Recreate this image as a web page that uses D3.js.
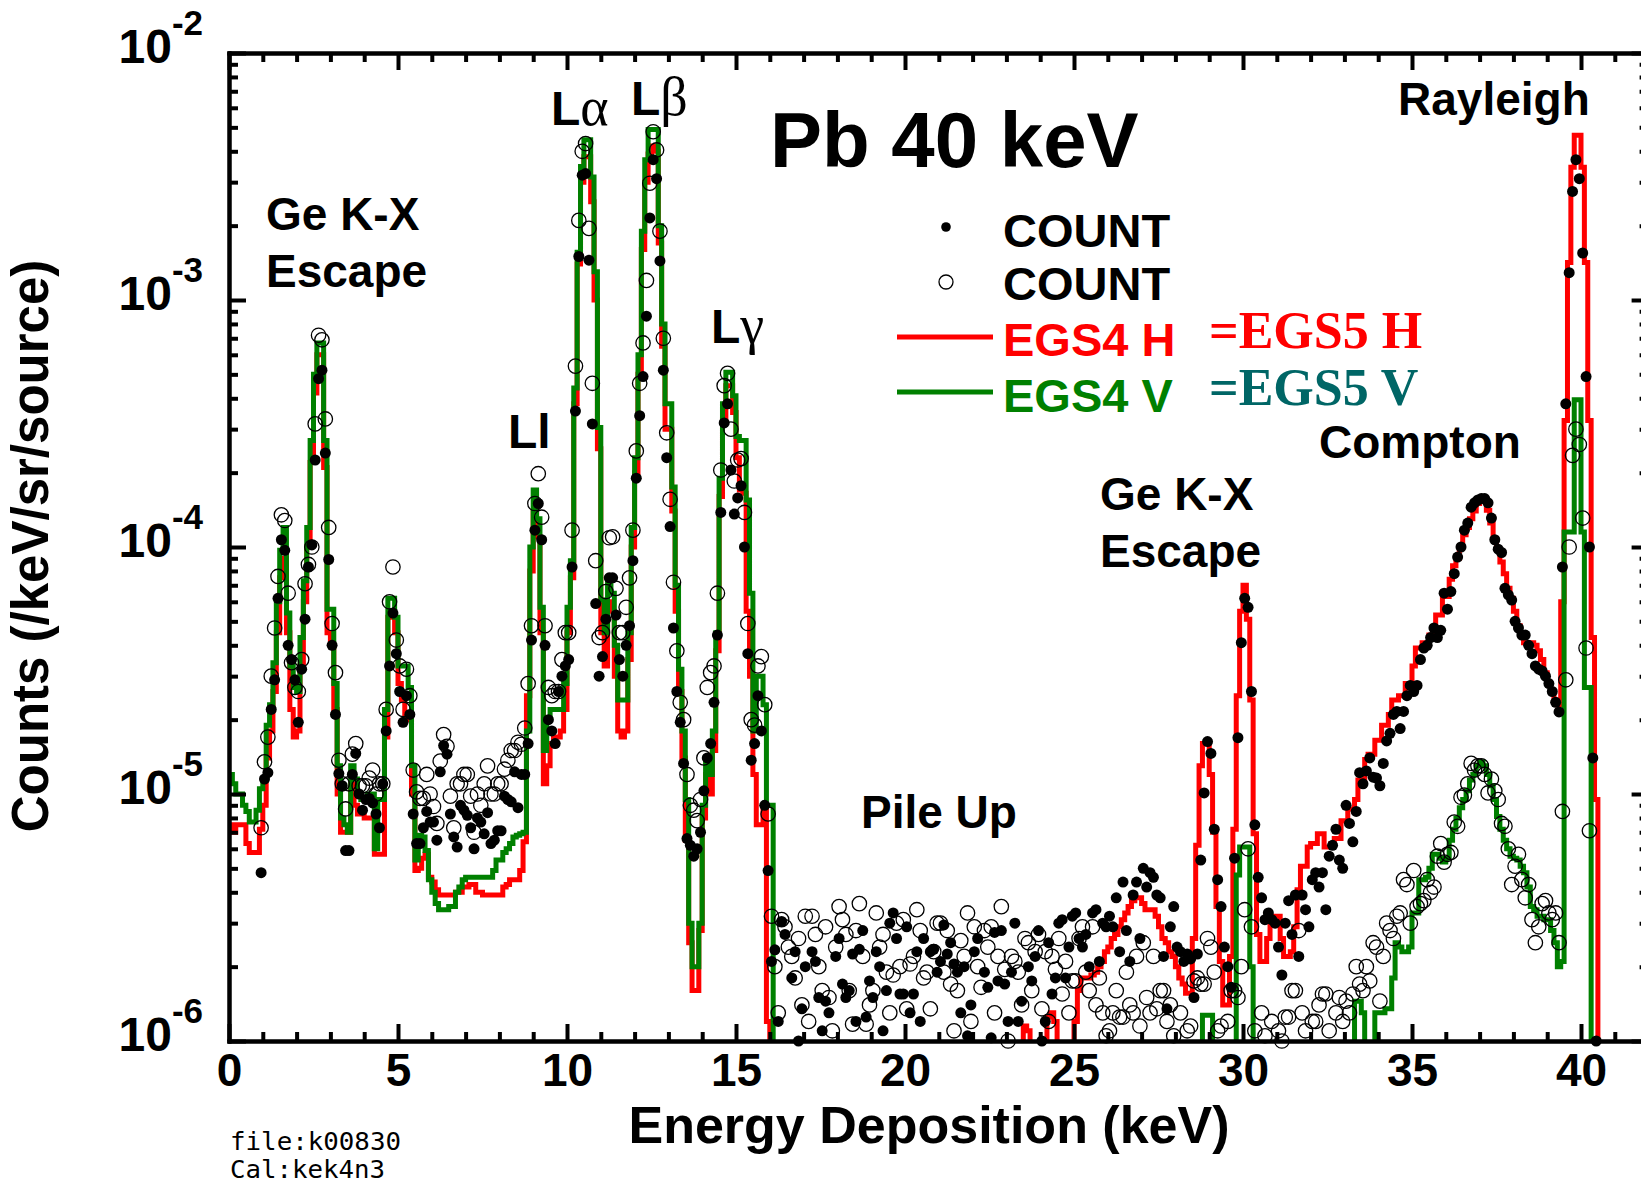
<!DOCTYPE html>
<html>
<head>
<meta charset="utf-8">
<script src="https://cdn.jsdelivr.net/npm/d3@7/dist/d3.min.js"></script>
<style>
  html, body { margin: 0; padding: 0; background: #fff; }
  svg { display: block; }
</style>
</head>
<body>
<svg id="chart" width="1641" height="1187"></svg>
<script>
// ---------------- DATA (counts in units of 1e-6 /keV/sr/source) ----------------
// Histograms: 0.1 keV bins starting at 0 keV; 0 = below the plotted range
const binWidth = 0.1;
const histStart = 0.0;
const egs4H = [
  7.5,7,7.5,7.5,7.5,6.3,5.8,5.8,5.8,7.2,
  9,14,18,26,45,75,90,45,22,17,
  18,33,60,100,220,420,600,600,210,45,
  40,22,10,7,7,7,11,9,8.3,8.3,
  8,8,8,5.7,5.7,5.7,17,52,52,45,
  28,24,20,20,10,4.9,5.0,5.5,5.7,4.6,
  4.4,4.1,3.9,3.9,3.9,3.9,3.9,4.0,4.0,4.2,
  4.2,4.3,4.3,4.0,4.0,3.9,3.9,3.9,3.9,3.9,
  3.9,4.2,4.3,4.5,4.5,4.5,4.9,6.4,25,80,
  140,110,45,11,13,16,17,17,18,22,
  45,75,380,1400,3000,3800,3800,2500,1000,250,
  45,33,60,55,30,18,17,18,35,100,
  200,500,1600,3000,3900,4200,4000,1700,650,300,
  300,140,55,26,14,6.5,2.5,1.6,1.6,2.8,
  8,12,10,15,38,160,330,450,450,350,
  230,170,165,55,30,12,7.5,7.5,9,1.2,
  0,0,0,0,0,0,0,0,0,0,
  0,0,0,0,0,0,0,0,0,0,
  0,0,0,0,0,0,0,0,0,0,
  0,0,0,0,0,0,0,0,0,0,
  0,0,0,0,0,0,0,0,0,0,
  0,0,0,0,0,0,0,0,0,0,
  0,0,0,0,0,0,0,0,0,0,
  0,0,0,0,0,1.15,1.1,0,0,0,
  0,0,1.25,1.3,1.2,0,0,0,0,0,
  1.2,1.6,1.8,1.8,1.8,1.85,1.9,2.0,2.1,2.3,
  2.4,2.6,2.7,2.9,3.1,3.3,3.5,3.7,3.8,3.8,
  3.6,3.4,3.4,3.4,3.2,2.9,2.6,2.5,2.3,2.2,
  2.0,1.8,1.7,1.56,1.56,2.6,6.2,13,16,16,
  12,7,3.5,2.1,1.4,1.4,2.2,7.2,25,55,
  70,51,24,6.9,2.7,2.1,2.1,2.6,3.2,3.2,
  3.2,2.6,2.2,2.2,2.3,2.9,4.1,5.1,5.1,6.1,
  6.3,6.3,6.9,6.9,6.1,6.1,6.3,6.6,6.6,7.8,
  7.8,8.7,8.7,9.5,11.4,11.4,13.8,14.5,14.5,16.5,
  16.5,19,19,21,24,24,25,25,28,28,
  33,39,39,41,41,44,44,53,53,63,
  63,74,84,90,100,112,120,130,140,150,
  155,155,141,125,108,98,87,78,68,62,
  55,48,44,41,41,41,40,38,35,31,
  28,26,24,23,60,325,1420,3450,4650,4650,
  3450,1420,325,43,9.5
];
const egs4V = [
  12,11,10,10,9,8.5,7.7,7.7,8.6,10.5,
  11.5,19,23,34,60,97,120,54,33,27,
  26,43,73,120,270,500,670,670,270,56,
  56,28,13,8,7.5,7,13,11.5,10,9.5,
  9.5,10,10,6,9.5,9.5,22,62,62,52,
  33,33,33,27,13,5.4,6.8,6.7,5.9,4.5,
  4.0,3.6,3.4,3.4,3.4,3.5,3.5,4.0,4.2,4.5,
  4.6,4.6,4.6,4.6,4.6,4.6,4.6,4.6,4.9,5.4,
  5.4,5.8,6.0,6.3,6.7,6.8,6.9,7.0,18,100,
  170,130,57,15,20,22,22,22,22,28,
  57,88,440,1560,3470,4450,4450,3150,1300,305,
  61,45,75,65,40,24,24,24,45,120,
  230,600,1900,3700,4900,4900,4900,2000,800,380,
  380,175,70,32,18,9.5,3.0,2.0,2.0,3.0,
  9,14,12,18,45,190,380,510,510,410,
  280,270,270,155,65,18,30,30,23,9,
  9,0,0,0,0,0,0,0,0,0,
  0,0,0,0,0,0,0,0,0,0,
  0,0,0,0,0,0,0,0,0,0,
  0,0,0,0,0,0,0,0,0,0,
  0,0,0,0,0,0,0,0,0,0,
  0,0,0,0,0,0,0,0,0,0,
  0,0,0,0,0,0,0,0,0,0,
  0,0,0,0,0,0,0,0,0,0,
  0,0,0,0,0,0,0,0,0,0,
  0,0,0,0,0,0,0,0,0,0,
  0,0,0,0,0,0,0,0,0,0,
  0,0,0,0,0,0,0,0,0,0,
  0,0,0,0,0,0,0,0,1.27,1.27,
  1.27,0,0,0,0,0,0,0,4.7,6.1,
  6.1,6.1,2.0,0,0,0,0,0,0,0,
  0,0,0,0,0,0,0,0,0,0,
  0,0,0,0,0,0,0,0,0,0,
  0,0,0,1.45,1.45,1.3,0,0,0,1.3,
  1.3,1.3,1.35,1.35,1.8,2.5,2.4,2.3,2.3,2.4,
  3.3,3.3,4.5,4.5,4.6,5.0,5.7,5.7,5.5,5.3,
  5.5,6.5,7.2,8.0,8.8,9.5,10.3,11.4,12,13,
  13.5,13,12,10.8,9.5,8.1,7.2,6.5,6.0,5.6,
  5.5,5.4,5.1,4.8,4.2,3.5,3.4,3.2,3.2,3.1,
  3.1,2.8,2.5,2.0,2.1,115,115,115,395,395,
  115,27,27,0,0
];

// Measured points: channels every 0.1 keV, centred at 0.05 keV; null = below range / no data
const pointStart = 0.05;
const pointStep = 0.1;
const countH = [
  null,null,null,null,null,null,null,null,null,4.8,
  11.5,12.2,22,29,62,107,97,40,35,29,
  19.5,32,51,83,102,225,480,520,240,89,
  40,21,12.1,10.8,5.9,5.9,12,14.6,10,8.6,
  9.5,9.6,9.2,8.3,7.3,11,18,33,54,37,
  26,19.5,25,21,8.3,6.3,6.3,7.3,8.5,7.7,
  7.7,6.5,12.3,15.7,14.5,8.3,6.7,6.1,9.0,8.6,
  8.2,7.3,6.0,8.0,7.7,6.9,8.4,6.3,6.5,7.1,
  7.1,9.8,9.5,9.3,12.3,8.8,12,12,16,42,
  117,150,107,40,20,18,16,26,30,33,
  35,83,355,1500,3200,3250,1450,315,59,30,
  36,51,75,75,53,35,30,40,48,88,
  190,340,490,860,2150,3700,3100,1440,520,230,
  121,47,26,19.5,13.3,6.6,6.2,5.6,6.0,7.0,
  10.3,14,16,23.5,44,138,318,380,205,136,
  158,177,100,37,13.7,16,25,18,9,4.9,
  2.1,2.34,1.2,3.05,2.7,null,1.8,2.3,1.0,1.35,
  2.0,null,2.3,2.1,1.5,1.1,1.45,1.3,null,2.2,
  2.6,1.7,1.5,1.6,2.25,1.2,2.35,2.8,1.25,1.75,
  1.5,2.3,2.0,1.1,1.6,3.0,3.3,2.6,1.55,1.55,
  2.9,1.3,1.55,2.3,1.2,2.6,null,2.3,2.35,1.9,
  2.1,2.95,2.25,2.5,2.05,1.9,1.3,2.0,1.05,1.4,
  2.3,2.6,null,1.9,1.65,1.03,2.75,1.75,2.8,1.7,
  1.2,1.9,3.0,1.2,1.45,null,2.0,1.75,2.2,2.8,
  1.0,1.2,2.5,1.55,1.8,3.0,3.1,1.8,2.4,3.2,
  3.3,2.6,2.4,2.7,2.0,3.3,3.4,2.1,3.0,2.9,
  3.2,2.9,3.8,2.3,4.4,2.8,2.1,3.9,4.4,2.6,
  5.0,4.2,4.8,4.6,3.9,3.8,2.2,1.35,2.9,3.5,
  2.4,2.3,2.1,2.25,2.15,1.5,2.25,5.4,10.1,16.3,
  14.6,7.2,4.5,3.5,2.4,2.0,1.65,5.5,16.9,41,
  62,57,26,7.5,4.6,3.8,3.1,3.3,3.1,3.0,
  2.4,1.85,3.0,3.7,2.7,3.9,2.2,3.9,3.4,2.9,
  4.5,4.8,4.2,4.8,3.4,5.6,6.2,7.2,5.4,5.0,
  9.0,7.6,6.4,8.5,12.2,11.0,12.4,14.0,11.7,11.6,
  10.8,13.3,16.4,17.6,21,21.6,18.4,21.6,25,27.5,
  26,27.5,35,39,40,43,47,43,46,65,
  56,66,78,91,100,117,125,145,151,155,
  157,157,151,131,107,98,95,68,64,61,
  50,47,44,44,40,37,33,32,31.5,30,
  28,26,23.5,21.5,83,380,1290,2750,3700,3100,
  1550,490,100,14,1.0,null
];
const countV = [
  null,null,null,null,null,null,null,null,null,7.3,
  13.5,17,30,47,76,135,128,65,34,27,
  26,35,71,85,100,315,720,690,330,120,
  49,31,13.7,11,8.7,11,14.5,16,10.8,10.8,
  10.8,11.6,12.5,10,11,11,22,60,83,42,
  33,22,32,25,12.5,10.2,9.6,9.6,12,10,
  8.9,7.6,13.6,17.4,15.6,9.8,7.3,11,11,12,
  12,9.8,7.0,10,9,11,13,10,10,11,
  11,12.6,13.7,15,15,16.2,15.9,18.5,28,48,
  150,198,132,48,27,25,26,26,35,45,
  45,117,540,2100,4000,4300,1950,460,88,43,
  45,66,109,110,68,45,45,57,75,117,
  245,460,670,1200,2970,4800,4050,1900,700,290,
  156,72,38,23.5,20,12,9,8.6,7.8,9.5,
  14,27,31,33,65,205,450,505,300,185,
  225,228,138,49,20,19,33,36,23,8.3,
  3.2,2.0,1.3,3.1,2.9,2.4,2.2,1.8,2.6,1.4,
  3.2,1.2,3.2,2.7,2.0,1.6,2.9,1.5,1.1,2.4,
  3.5,3.1,2.7,1.6,1.17,2.8,3.6,2.2,1.17,1.4,
  1.6,3.3,2.4,2.7,1.9,1.3,1.85,3.0,2.0,3.1,
  1.35,2.05,2.2,3.4,2.8,1.8,1.9,1.35,2.3,3.0,
  3.0,1.9,2.8,1.7,1.1,1.6,2.55,2.2,3.3,1.2,
  2.9,2.0,1.65,2.8,2.4,2.9,1.3,2.2,3.5,1.95,
  1.0,2.2,2.1,1.9,1.4,2.6,2.5,1.6,2.3,2.7,
  1.35,2.3,1.2,2.2,1.95,2.6,1.55,2.1,1.3,1.75,
  1.75,2.6,2.9,1.9,1.6,2.9,1.4,1.8,1.3,1.05,
  1.1,1.3,1.6,1.25,1.25,1.9,1.4,1.3,2.2,1.15,
  2.5,1.5,1.3,2.2,1.35,1.6,1.6,1.2,1.4,1.05,
  null,1.3,null,1.1,1.15,1.75,1.8,1.7,1.7,2.6,
  2.4,1.9,1.1,1.15,null,1.2,1.6,1.6,1.5,2.0,
  3.4,6.0,2.9,1.1,null,1.3,1.05,null,1.2,null,
  1.1,1.0,1.25,1.25,1.6,1.6,2.8,1.3,1.1,null,
  1.2,1.2,1.4,1.55,1.55,1.1,null,1.3,1.5,1.2,
  1.45,1.3,1.55,2.0,1.7,1.6,2.0,1.75,2.5,2.4,
  1.45,2.2,3.0,2.8,2.6,3.2,3.3,4.5,4.3,3.0,
  4.9,3.5,3.6,3.7,4.5,4.0,4.2,5.6,6.3,5.3,
  5.7,5.8,7.7,7.4,9.7,9.9,11,13.3,12.5,13,
  13,12,10.1,11.5,10.3,9.5,7.6,7.4,6.0,4.3,
  5.1,5.7,4.5,3.8,4.3,3.1,2.5,2.9,3.6,3.7,
  3.3,3.1,3.3,2.5,8.5,29,100,235,300,260,
  131,39,7.1,null,null,null
];

const xTickLabels = [0, 5, 10, 15, 20, 25, 30, 35, 40];
const yDecadeExponents = [-6, -5, -4, -3, -2];

// ---------------- LAYOUT ----------------
const UNIT = 1e-6;
const FLOOR = 2e-7;
const X0 = 229, PX_PER_KEV = 33.8;
const x = d3.scaleLinear().domain([0, 42]).range([X0, X0 + 42 * PX_PER_KEV]);
const y = d3.scaleLog().domain([1e-6, 1e-2]).range([1041, 53]);

const svg = d3.select("#chart");
const SANS = "'Liberation Sans', Arial, Helvetica, sans-serif";
const SERIF = "'Liberation Serif', 'Times New Roman', serif";

svg.append("defs").append("clipPath").attr("id", "plotClip")
  .append("rect")
  .attr("x", x(0)).attr("y", y(1e-2))
  .attr("width", x(42) - x(0)).attr("height", y(1e-6) - y(1e-2));

// ---------------- HISTOGRAMS ----------------
function histSeries(vals) {
  const pts = vals.map((v, i) => [histStart + i * binWidth, v > 0 ? v * UNIT : FLOOR]);
  pts.push([histStart + vals.length * binWidth, FLOOR]);
  return pts;
}
const stepLine = d3.line()
  .x(d => x(d[0]))
  .y(d => y(d[1]))
  .curve(d3.curveStepAfter);

const plot = svg.append("g").attr("clip-path", "url(#plotClip)");
plot.append("path").datum(histSeries(egs4H))
  .attr("d", stepLine).attr("fill", "none")
  .attr("stroke", "#ff0000").attr("stroke-width", 5).attr("stroke-linejoin", "miter");
plot.append("path").datum(histSeries(egs4V))
  .attr("d", stepLine).attr("fill", "none")
  .attr("stroke", "#008000").attr("stroke-width", 5).attr("stroke-linejoin", "miter");

// ---------------- POINTS ----------------
function pointSeries(vals) {
  return vals.map((v, i) => ({ e: pointStart + i * pointStep, v }))
             .filter(d => d.v !== null && d.v * UNIT >= 1e-6);
}
svg.append("g").selectAll("circle").data(pointSeries(countH)).join("circle")
  .attr("cx", d => x(d.e)).attr("cy", d => y(d.v * UNIT))
  .attr("r", 5.5).attr("fill", "#000");
svg.append("g").selectAll("circle").data(pointSeries(countV)).join("circle")
  .attr("cx", d => x(d.e)).attr("cy", d => y(d.v * UNIT))
  .attr("r", 7.2).attr("fill", "none").attr("stroke", "#000").attr("stroke-width", 1.3);

// ---------------- AXES ----------------
const xMinor = d3.range(0, 42, 1).filter(v => v % 5 !== 0);
const yMajor = yDecadeExponents.map(p => Math.pow(10, p));
const yMinor = [];
yDecadeExponents.slice(0, -1).forEach(p => { for (let k = 2; k <= 9; k++) yMinor.push(k * Math.pow(10, p)); });

function styleAxis(g) {
  g.selectAll("path.domain").attr("stroke", "#000").attr("stroke-width", 4).attr("stroke-linecap", "square");
  g.selectAll(".tick line").attr("stroke", "#000").attr("stroke-width", 4);
}

const axes = svg.append("g");
// bottom
const gB = axes.append("g").attr("transform", `translate(0,${y(1e-6)})`);
gB.append("g").call(d3.axisBottom(x).tickValues(xMinor).tickSize(-9).tickSizeOuter(0).tickFormat("")).call(styleAxis);
gB.append("g").call(d3.axisBottom(x).tickValues(xTickLabels).tickSize(-17).tickSizeOuter(0).tickFormat(d3.format("d"))).call(styleAxis)
  .call(g => g.selectAll(".tick text").attr("y", 45).attr("dy", 0)
    .attr("font-family", SANS).attr("font-weight", "bold").attr("font-size", 46).attr("fill", "#000"));
// top
const gT = axes.append("g").attr("transform", `translate(0,${y(1e-2)})`);
gT.append("g").call(d3.axisTop(x).tickValues(xMinor).tickSize(-9).tickSizeOuter(0).tickFormat("")).call(styleAxis);
gT.append("g").call(d3.axisTop(x).tickValues(xTickLabels).tickSize(-17).tickSizeOuter(0).tickFormat("")).call(styleAxis);
// left
const gL = axes.append("g").attr("transform", `translate(${x(0)},0)`);
gL.append("g").call(d3.axisLeft(y).tickValues(yMinor).tickSize(-9).tickSizeOuter(0).tickFormat("")).call(styleAxis);
gL.append("g").call(d3.axisLeft(y).tickValues(yMajor).tickSize(-17).tickSizeOuter(0).tickFormat("")).call(styleAxis)
  .call(g => {
    const t = g.selectAll(".tick").append("text")
      .attr("x", -26).attr("y", 9).attr("text-anchor", "end")
      .attr("font-family", SANS).attr("font-weight", "bold").attr("font-size", 48).attr("fill", "#000");
    t.append("tspan").text("10");
    t.append("tspan").attr("dy", -28).attr("font-size", 35).text(d => String(Math.round(Math.log10(d))));
  });
// right
const gR = axes.append("g").attr("transform", `translate(${x(42)},0)`);
gR.append("g").call(d3.axisRight(y).tickValues(yMinor).tickSize(-9).tickSizeOuter(0).tickFormat("")).call(styleAxis);
gR.append("g").call(d3.axisRight(y).tickValues(yMajor).tickSize(-17).tickSizeOuter(0).tickFormat("")).call(styleAxis);

// ---------------- TITLES / LABELS ----------------
function label(txt, px, py, size, opts = {}) {
  return svg.append("text").attr("x", px).attr("y", py)
    .attr("font-family", opts.family || SANS)
    .attr("font-weight", opts.weight || "bold")
    .attr("font-size", size)
    .attr("fill", opts.fill || "#000")
    .attr("text-anchor", opts.anchor || "start")
    .text(txt);
}
label("Energy Deposition (keV)", 929, 1143, 52, { anchor: "middle" });
svg.append("text")
  .attr("transform", "translate(48,546) rotate(-90)")
  .attr("text-anchor", "middle")
  .attr("font-family", SANS).attr("font-weight", "bold").attr("font-size", 51)
  .text("Counts (/keV/sr/source)");

label("Pb 40 keV", 770, 167, 78);

label("Ge K-X", 266, 230, 46);
label("Escape", 266, 287, 46);
label("Ge K-X", 1100, 510, 46);
label("Escape", 1100, 567, 46);
label("Pile Up", 861, 828, 46);
label("Compton", 1319, 458, 46);
label("Rayleigh", 1398, 115, 46);
label("Ll", 508, 448, 48);

function greekLabel(greek, px, py) {
  const t = svg.append("text").attr("x", px).attr("y", py)
    .attr("font-family", SANS).attr("font-weight", "bold").attr("font-size", 48);
  t.append("tspan").text("L");
  t.append("tspan").attr("font-family", SERIF).attr("font-weight", "normal").attr("font-size", 54).text(greek);
}
greekLabel("α", 551, 125);
greekLabel("β", 631, 115);
greekLabel("γ", 711, 343);

// legend
svg.append("circle").attr("cx", 946).attr("cy", 227).attr("r", 4.8).attr("fill", "#000");
svg.append("circle").attr("cx", 946).attr("cy", 282).attr("r", 7).attr("fill", "none").attr("stroke", "#000").attr("stroke-width", 1.3);
svg.append("line").attr("x1", 897).attr("x2", 993).attr("y1", 337).attr("y2", 337).attr("stroke", "#ff0000").attr("stroke-width", 5);
svg.append("line").attr("x1", 897).attr("x2", 993).attr("y1", 392).attr("y2", 392).attr("stroke", "#008000").attr("stroke-width", 5);
label("COUNT", 1003, 247, 47);
label("COUNT", 1003, 300, 47);
label("EGS4 H", 1003, 356, 47, { fill: "#ff0000" });
label("EGS4 V", 1003, 412, 47, { fill: "#008000" });
label("=EGS5 H", 1209, 348, 52, { family: SERIF, fill: "#ff0000" });
label("=EGS5 V", 1209, 405, 52, { family: SERIF, fill: "#006666" });

// file info
const MONO = "'DejaVu Sans Mono', 'Liberation Mono', monospace";
svg.append("text").attr("x", 230).attr("y", 1150).attr("font-family", MONO).attr("font-size", 25)
  .attr("textLength", 171).attr("lengthAdjust", "spacingAndGlyphs").text("file:k00830");
svg.append("text").attr("x", 230).attr("y", 1178).attr("font-family", MONO).attr("font-size", 25)
  .attr("textLength", 155).attr("lengthAdjust", "spacingAndGlyphs").text("Cal:kek4n3");
</script>
</body>
</html>
